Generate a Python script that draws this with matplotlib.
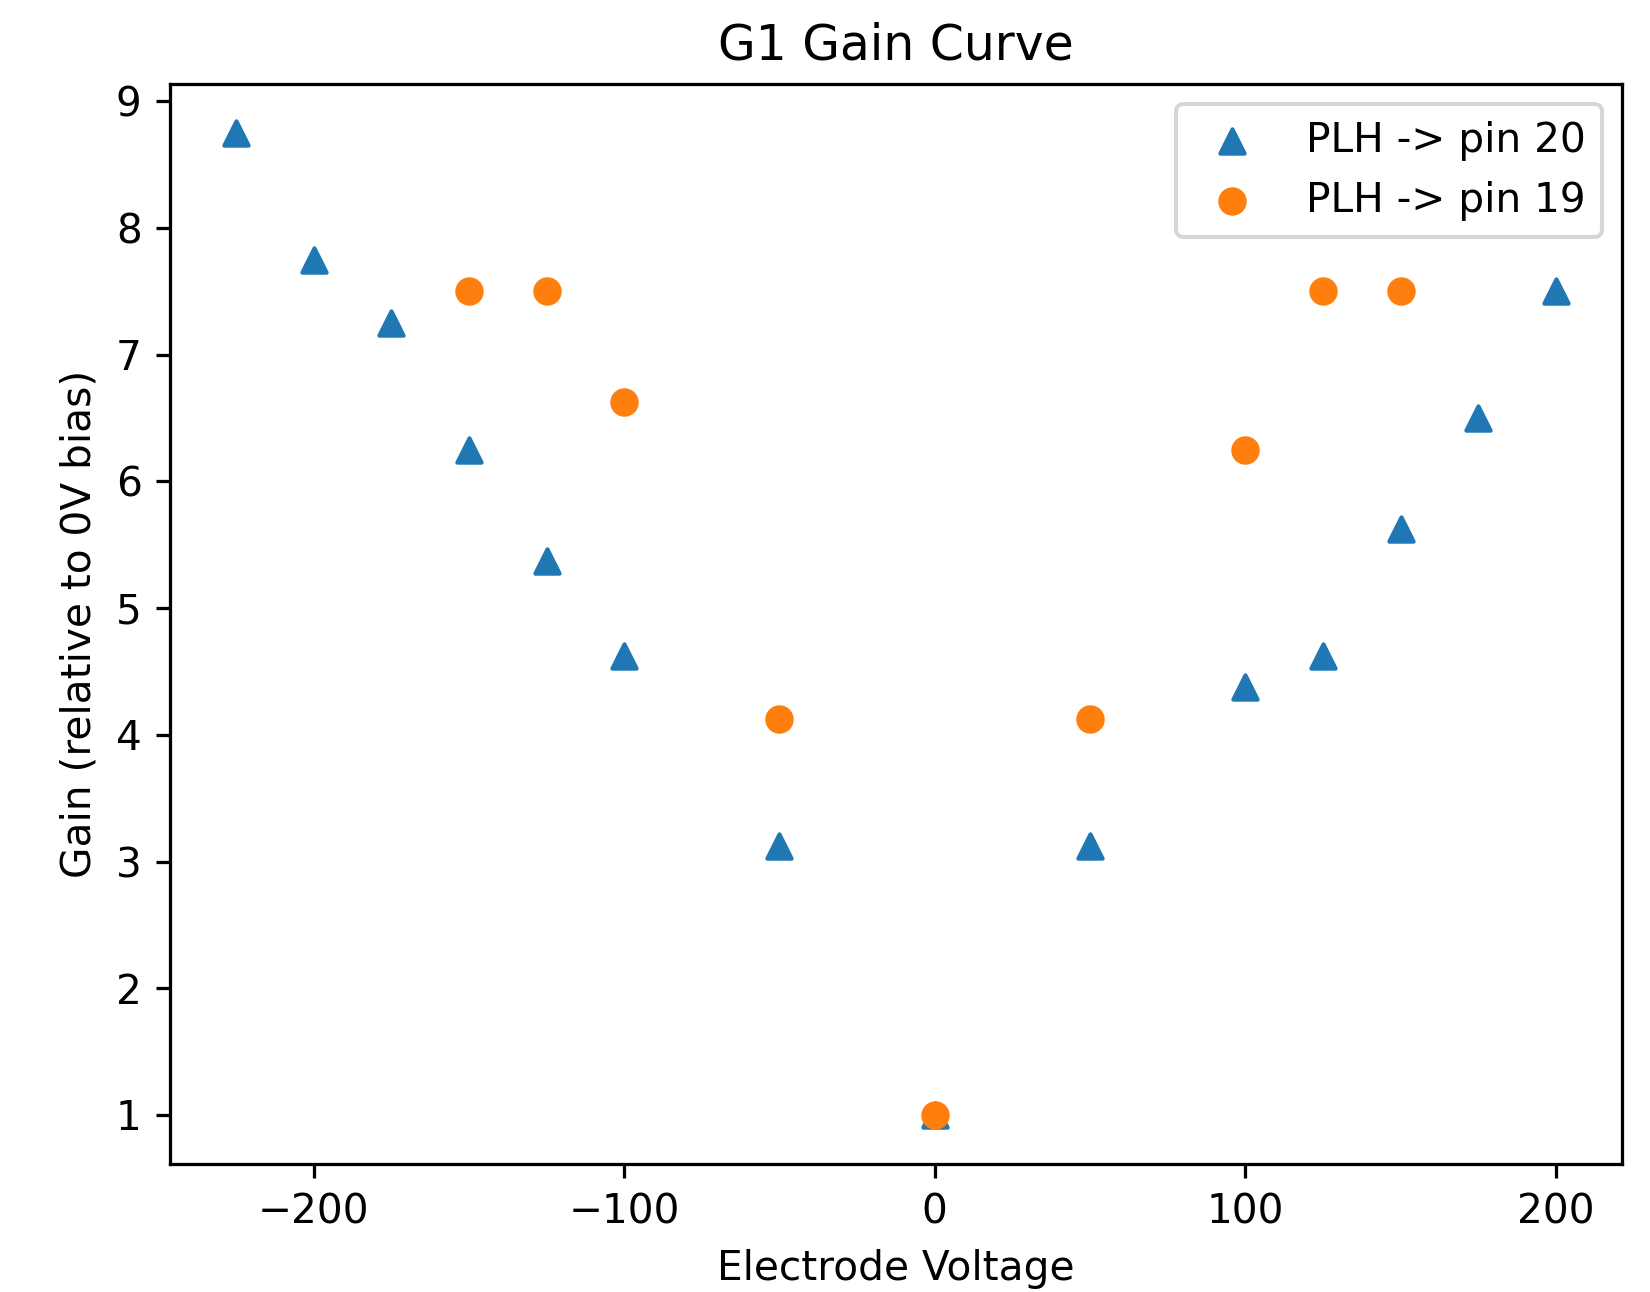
import matplotlib
matplotlib.use("Agg")
import matplotlib.pyplot as plt

# PLH -> pin 20
volts_20 = [-225, -200, -175, -150, -125, -100, -50, 0, 50, 100, 125, 150, 175, 200]
gain_20 = [8.75, 7.75, 7.25, 6.25, 5.375, 4.625, 3.125, 1.0, 3.125, 4.375, 4.625, 5.625, 6.5, 7.5]

# PLH -> pin 19
volts_19 = [-150, -125, -100, -50, 0, 50, 100, 125, 150]
gain_19 = [7.5, 7.5, 6.625, 4.125, 1.0, 4.125, 6.25, 7.5, 7.5]

dpi = 292.5
fig, ax = plt.subplots(figsize=(1650 / dpi, 1292 / dpi), dpi=dpi)
fig.subplots_adjust(left=0.103, right=0.983, top=0.935, bottom=0.099)

ax.scatter(volts_20, gain_20, marker="^", label="PLH -> pin 20")
ax.scatter(volts_19, gain_19, marker="o", label="PLH -> pin 19")

ax.set_title("G1 Gain Curve")
ax.set_xlabel("Electrode Voltage")
ax.set_ylabel("Gain (relative to 0V bias)")
ax.legend()

fig.savefig("out.png", dpi=dpi)
